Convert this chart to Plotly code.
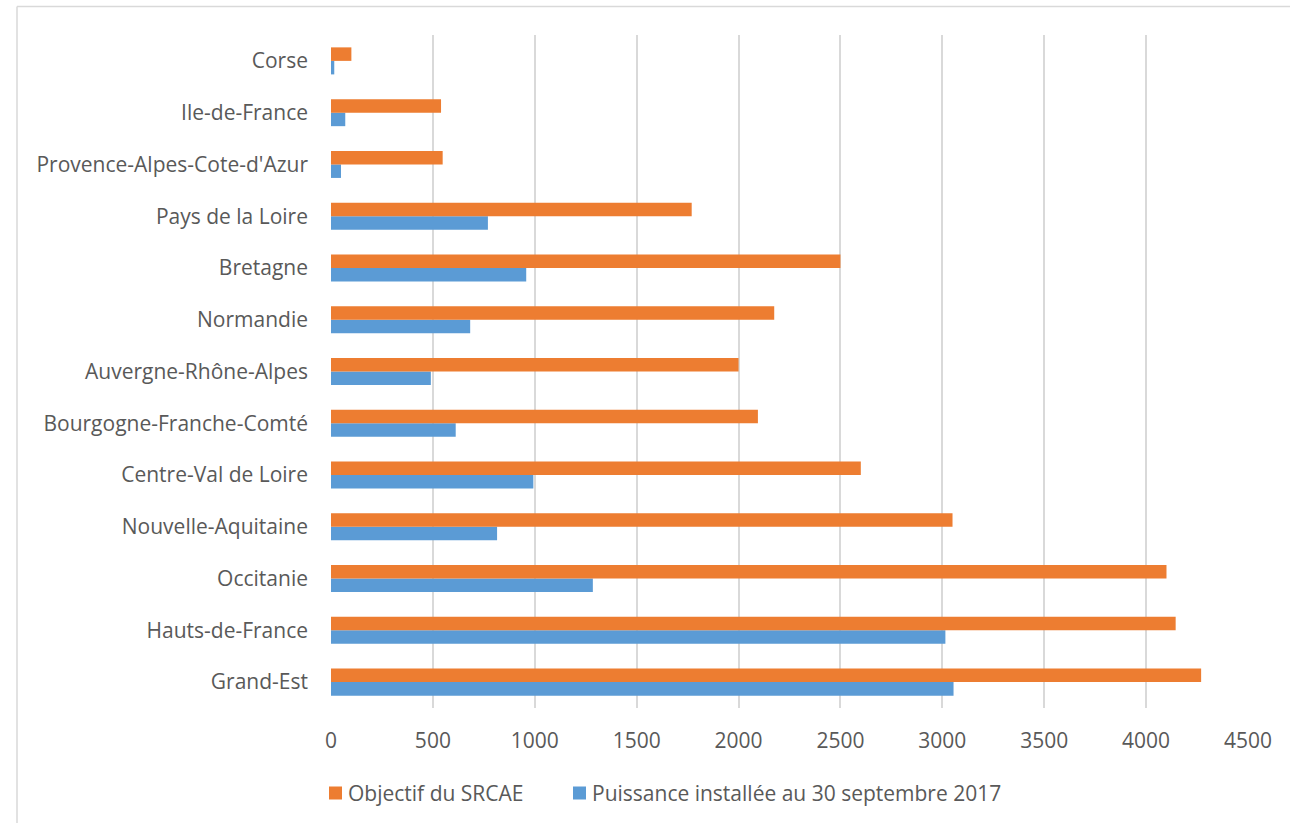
import plotly.graph_objects as go

regions = ["Grand-Est", "Hauts-de-France", "Occitanie", "Nouvelle-Aquitaine",
           "Centre-Val de Loire", "Bourgogne-Franche-Comté", "Auvergne-Rhône-Alpes",
           "Normandie", "Bretagne", "Pays de la Loire", "Provence-Alpes-Cote-d'Azur",
           "Ile-de-France", "Corse"]
objectif = [4270, 4145, 4100, 3050, 2600, 2095, 2000, 2175, 2500, 1770, 548, 540, 100]
puissance = [3055, 3015, 1285, 815, 993, 612, 490, 683, 958, 770, 49, 70, 16]
xticks = [0, 500, 1000, 1500, 2000, 2500, 3000, 3500, 4000, 4500]

FONT = "Open Sans"
GRAY = "#595959"
ORANGE = "#ED7D31"
BLUE = "#5B9BD5"
FS = 21

fig = go.Figure()
fig.add_trace(go.Bar(y=regions, x=puissance, orientation="h",
                     name="Puissance installée au 30 septembre 2017",
                     marker=dict(color=BLUE, line=dict(width=0))))
fig.add_trace(go.Bar(y=regions, x=objectif, orientation="h",
                     name="Objectif du SRCAE",
                     marker=dict(color=ORANGE, line=dict(width=0))))

L, R, T, B = 331, 1248, 35, 708
W, H = 1290, 823
def px(x):
    return (x - L) / (R - L)
def py(y):
    return (B - y) / (B - T)

fig.update_layout(
    width=W, height=H,
    margin=dict(l=L, r=W - R, t=T, b=H - B, pad=0),
    barmode="group", bargap=0.478, bargroupgap=0,
    plot_bgcolor="white", paper_bgcolor="white",
    font=dict(family=FONT, size=FS, color=GRAY),
    showlegend=False,
    xaxis=dict(range=[0, 4500], tickvals=xticks, ticktext=[str(v) for v in xticks],
               showgrid=True, gridcolor="#D9D9D9", gridwidth=2,
               zeroline=False, showline=False, ticks="", ticklen=0,
               ticklabelstandoff=18,
               tickfont=dict(family=FONT, size=FS, color=GRAY)),
    yaxis=dict(type="category", categoryorder="array", categoryarray=regions,
               showgrid=False, zeroline=False, showline=False, ticks="",
               ticklabelstandoff=22,
               tickfont=dict(family=FONT, size=FS, color=GRAY)),
)

# legend drawn below the plot
legend_items = [("Objectif du SRCAE", ORANGE, 329), ("Puissance installée au 30 septembre 2017", BLUE, 573)]
for label, color, x0 in legend_items:
    fig.add_shape(type="rect", xref="paper", yref="paper",
                  x0=px(x0), x1=px(x0 + 13), y0=py(786.5), y1=py(799.5),
                  fillcolor=color, line=dict(width=0))
    fig.add_annotation(text=label, xref="paper", yref="paper",
                       x=px(x0 + 17), y=py(793), xanchor="left", yanchor="middle",
                       showarrow=False, font=dict(family=FONT, size=FS, color=GRAY))

# outer chart border (top and left edges visible)
fig.add_shape(type="line", xref="paper", yref="paper",
              x0=px(17), x1=px(1295), y0=py(6.5), y1=py(6.5),
              line=dict(color="#D9D9D9", width=1.5))
fig.add_shape(type="line", xref="paper", yref="paper",
              x0=px(17), x1=px(17), y0=py(6.5), y1=py(830),
              line=dict(color="#D9D9D9", width=1.5))

fig.write_html("out.html")
